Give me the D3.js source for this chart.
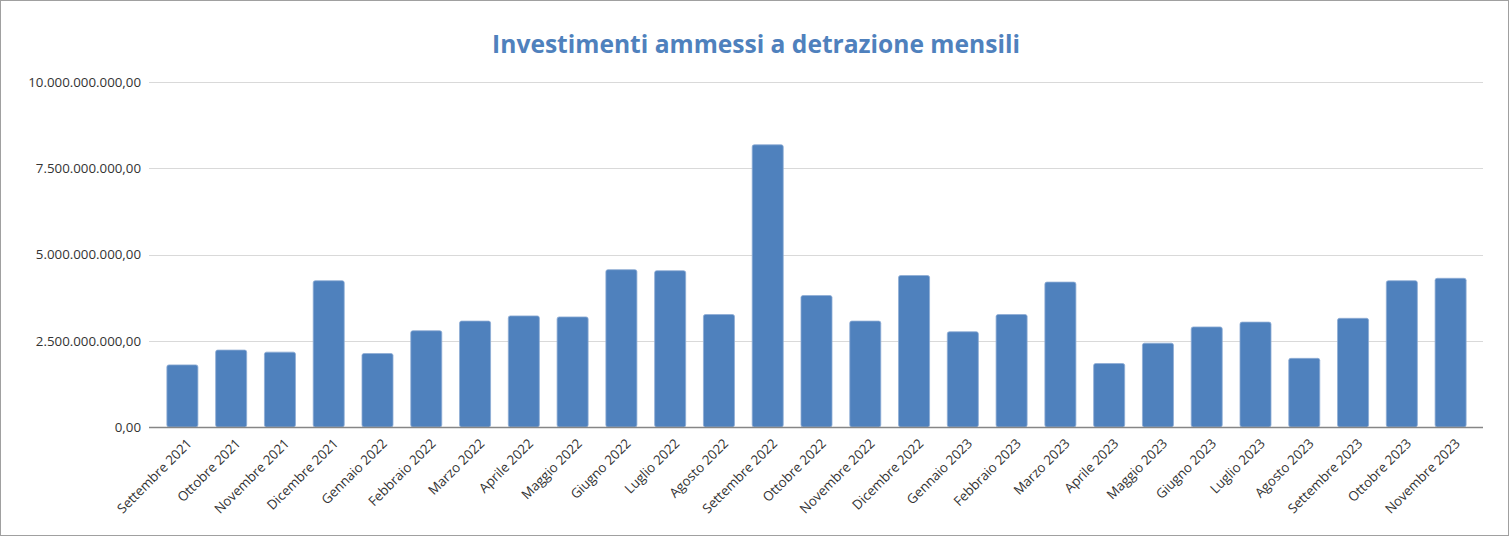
<!DOCTYPE html>
<html><head><meta charset="utf-8">
<script src="https://cdn.jsdelivr.net/npm/d3@7"></script>
<style>html,body{margin:0;padding:0;background:#fff;overflow:hidden}</style>
</head><body>
<svg id="c" width="1510" height="537"></svg>
<script>
const categories = ["Settembre 2021","Ottobre 2021","Novembre 2021","Dicembre 2021","Gennaio 2022","Febbraio 2022","Marzo 2022","Aprile 2022","Maggio 2022","Giugno 2022","Luglio 2022","Agosto 2022","Settembre 2022","Ottobre 2022","Novembre 2022","Dicembre 2022","Gennaio 2023","Febbraio 2023","Marzo 2023","Aprile 2023","Maggio 2023","Giugno 2023","Luglio 2023","Agosto 2023","Settembre 2023","Ottobre 2023","Novembre 2023"];
const values = [1.80e9,2.23e9,2.17e9,4.24e9,2.13e9,2.79e9,3.07e9,3.22e9,3.19e9,4.56e9,4.53e9,3.26e9,8.18e9,3.81e9,3.07e9,4.39e9,2.76e9,3.26e9,4.20e9,1.84e9,2.43e9,2.90e9,3.04e9,1.99e9,3.15e9,4.24e9,4.31e9];
const yTicks = [0,2.5e9,5e9,7.5e9,10e9];
const title = "Investimenti ammessi a detrazione mensili";

const svg = d3.select("#c");
const W = 1510, H = 537;
svg.append("rect").attr("x",0.5).attr("y",0.5).attr("width",W-2).attr("height",H-2)
  .attr("fill","#fff").attr("stroke","#a0a0a0").attr("stroke-width",1);

const plotL = 149, plotR = 1483;
const y = d3.scaleLinear().domain([0,10e9]).range([427,82]);
const x = d3.scaleBand().domain(categories).range([158,1475]).paddingInner(0.364).paddingOuter(0.182);

const it = d3.formatLocale({decimal:",",thousands:".",grouping:[3],currency:["€",""]});
const fmt = it.format(",.2f");

// gridlines
svg.append("g").selectAll("line").data(yTicks.filter(d=>d>0)).join("line")
  .attr("x1",plotL).attr("x2",plotR).attr("y1",d=>Math.round(y(d))+0.5).attr("y2",d=>Math.round(y(d))+0.5)
  .attr("stroke","#d9d9d9").attr("stroke-width",1);

// y labels
const yAxis = d3.axisLeft(y).tickValues(yTicks).tickFormat(fmt).tickSize(0).tickPadding(0);
const gy = svg.append("g").attr("transform",`translate(${plotL-8},0)`).call(yAxis);
gy.select(".domain").remove();
gy.selectAll("text").attr("font-family","'Open Sans', sans-serif").attr("font-size","13.3px").attr("fill","#333");

// bars
svg.append("g").selectAll("rect").data(values).join("rect")
  .attr("x",(d,i)=>x(categories[i]))
  .attr("y",d=>y(d))
  .attr("width",x.bandwidth())
  .attr("height",d=>y(0)-y(d))
  .attr("rx",2).attr("ry",2)
  .attr("fill","#4f81bd")
  .attr("stroke","#8eacd4").attr("stroke-width",0.8);

// x axis
svg.append("line").attr("x1",plotL).attr("x2",plotR).attr("y1",427.5).attr("y2",427.5)
  .attr("stroke","#868686").attr("stroke-width",1.5);
const xAxis = d3.axisBottom(x).tickSize(0).tickPadding(0);
const gx = svg.append("g").attr("transform","translate(0,427)").call(xAxis);
gx.select(".domain").remove();
gx.selectAll("text")
  .attr("font-family","'Open Sans', sans-serif").attr("font-size","13.3px").attr("fill","#333")
  .attr("text-anchor","end")
  .attr("dy","0.35em").attr("y",0).attr("x",0)
  .attr("transform","translate(7,14) rotate(-45)");

// title
const t = svg.append("text").attr("x",756).attr("y",53).attr("text-anchor","middle")
  .attr("font-family","'Open Sans', sans-serif").attr("font-weight","bold")
  .attr("font-size","22px").attr("fill","#4f81bd").text(title);
const w = t.node().getComputedTextLength();
t.attr("font-size",(22*528/w).toFixed(2)+"px");
</script>
</body></html>
